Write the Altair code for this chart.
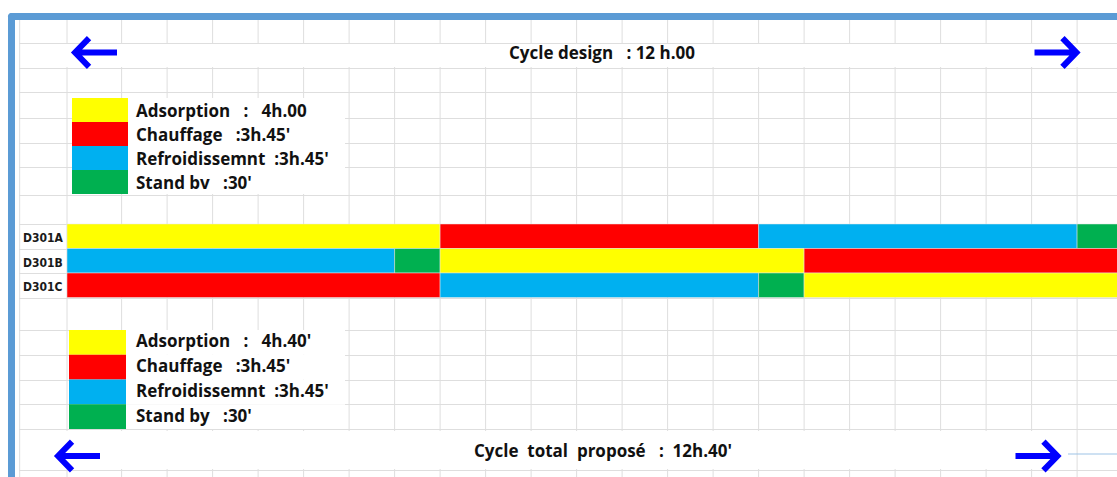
import altair as alt
import pandas as pd

# ---- phases and colours -------------------------------------------------
phases = ["Adsorption", "Chauffage", "Refroidissement", "Stand by"]
phase_colors = ["#FFFF00", "#FF0000", "#00B0F0", "#00B050"]

# ---- sequence of the three driers (hours from start of sequence) --------
reactors = ["D301A", "D301B", "D301C"]
seg_reactor = ["D301A"] * 4 + ["D301B"] * 4 + ["D301C"] * 4
seg_phase = [
    "Adsorption", "Chauffage", "Refroidissement", "Stand by",
    "Refroidissement", "Stand by", "Adsorption", "Chauffage",
    "Chauffage", "Refroidissement", "Stand by", "Adsorption",
]
seg_start = [0.0, 4.1, 7.6, 11.1, 0.0, 3.6, 4.1, 8.1, 0.0, 4.1, 7.6, 8.1]
seg_end = [4.1, 7.6, 11.1, 11.6, 3.6, 4.1, 8.1, 11.85, 4.1, 7.6, 8.1, 12.1]

# ---- key texts ------------------------------------------------------------
design_labels = ["Adsorption   :   4h.00", "Chauffage   :3h.45'",
                 "Refroidissemnt  :3h.45'", "Stand bv   :30'"]
proposed_labels = ["Adsorption   :   4h.40'", "Chauffage   :3h.45'",
                   "Refroidissemnt  :3h.45'", "Stand by   :30'"]
title_design = "Cycle design   : 12 h.00"
title_proposed = "Cycle  total  proposé   :  12h.40'"


def keep_spaces(s):
    return s.replace(" ", "\u00a0")


W, H = 1117, 477
FONT = "Open Sans"
FS = 17
BLUE_FRAME = "#5B9BD5"
GRID = "#dedede"

segments = pd.DataFrame({"reactor": seg_reactor, "phase": seg_phase,
                         "start": seg_start, "end": seg_end})
rows = pd.DataFrame({"reactor": reactors})
key_design = pd.DataFrame({"phase": phases,
                           "label": [keep_spaces(t) for t in design_labels]})
key_proposed = pd.DataFrame({"phase": phases,
                             "label": [keep_spaces(t) for t in proposed_labels]})

color = alt.Color("phase:N", scale=alt.Scale(domain=phases, range=phase_colors),
                  legend=None)

# time axis: 91 px per hour, one sheet column per half hour
px_h = 91.0
x0 = 67.0
xscale = alt.Scale(domain=[-0.53, 11.54], range=[x0 - 0.53 * px_h, x0 + 11.54 * px_h],
                   nice=False, zero=False)
col_lines = pd.DataFrame({"h": [-0.52, 0.0] + [round(0.6 + 0.5 * k, 2) for k in range(22)]})

row_scale = alt.Scale(domain=reactors, range=[224, 297.5], paddingInner=0, paddingOuter=0)
key1_scale = alt.Scale(domain=phases, range=[98, 194], paddingInner=0, paddingOuter=0)
key2_scale = alt.Scale(domain=phases, range=[330, 429], paddingInner=0, paddingOuter=0)


def deco():
    return alt.Chart(alt.Data(values=[{"k": 0}]))


# sheet column lines (one per half hour)
col_grid = alt.Chart(col_lines).mark_rule(color=GRID, strokeWidth=1).encode(
    x=alt.X("h:Q", scale=xscale, axis=None), y=alt.value(20), y2=alt.value(H))

# sheet row lines
sheet_rows = [43, 68, 92, 118, 143, 167, 195, 224, 248.5, 273, 297.5,
              330, 355, 379.5, 404, 429, 470]
row_grid = deco().mark_point(opacity=0).encode(
    y=alt.Y("k:Q", scale=alt.Scale(domain=[0, H], range=[0, H], nice=False, zero=False),
            axis=alt.Axis(values=sheet_rows, grid=True, gridColor=GRID, gridWidth=1,
                          labels=False, ticks=False, domain=False, title=None, zindex=0))
)


# white areas of the sheet
def white_box(x1, x2, y1, y2):
    return deco().mark_rect(color="white").encode(
        x=alt.value(x1), x2=alt.value(x2), y=alt.value(y1), y2=alt.value(y2))


whites = [
    white_box(0, 19, 0, H),
    white_box(0, W, 0, 20),
    white_box(57, W, 44, 67),
    white_box(30, 1068, 431, 469),
]

key1_bg = alt.Chart(key_design).mark_rect(color="white").encode(
    x=alt.value(128), x2=alt.value(345),
    y=alt.Y("phase:N", scale=key1_scale, axis=None))
key2_bg = alt.Chart(key_proposed).mark_rect(color="white").encode(
    x=alt.value(126), x2=alt.value(345),
    y=alt.Y("phase:N", scale=key2_scale, axis=None))

# Gantt bars
bars = alt.Chart(segments).mark_bar(clip=True, stroke="#e4e4e4", strokeWidth=0.5).encode(
    x=alt.X("start:Q", scale=xscale, axis=None),
    x2="end:Q",
    y=alt.Y("reactor:N", scale=row_scale, axis=None),
    color=color,
)

row_labels = alt.Chart(rows).mark_text(
    align="left", baseline="middle",
    font="Liberation Sans Narrow, DejaVu Sans Condensed, Roboto Condensed, sans-serif",
    fontWeight="bold", fontSize=12, dy=2, color="#1a1a1a").encode(
    x=alt.value(23),
    y=alt.Y("reactor:N", scale=row_scale, axis=None),
    text="reactor:N")

# keys
key1_sw = alt.Chart(key_design).mark_rect().encode(
    x=alt.value(72), x2=alt.value(128),
    y=alt.Y("phase:N", scale=key1_scale, axis=None), color=color)
key1_tx = alt.Chart(key_design).mark_text(
    align="left", baseline="middle", font=FONT, fontWeight="bold", fontSize=FS,
    dy=2, color="#111").encode(
    x=alt.value(136), y=alt.Y("phase:N", scale=key1_scale, axis=None), text="label:N")

key2_sw = alt.Chart(key_proposed).mark_rect().encode(
    x=alt.value(69), x2=alt.value(126),
    y=alt.Y("phase:N", scale=key2_scale, axis=None), color=color)
key2_tx = alt.Chart(key_proposed).mark_text(
    align="left", baseline="middle", font=FONT, fontWeight="bold", fontSize=FS,
    color="#111").encode(
    x=alt.value(136), y=alt.Y("phase:N", scale=key2_scale, axis=None), text="label:N")

# cycle titles
t_design = deco().mark_text(
    align="center", baseline="middle", font=FONT, fontWeight="bold", fontSize=FS,
    color="#111", text=keep_spaces(title_design)).encode(
    x=alt.value(602), y=alt.value(54))
t_proposed = deco().mark_text(
    align="center", baseline="middle", font=FONT, fontWeight="bold", fontSize=FS,
    color="#111", text=keep_spaces(title_proposed)).encode(
    x=alt.value(603), y=alt.value(452))

# arrows
LEFT = "M1,0L-0.85,0M-0.3,-0.67L-0.95,0L-0.3,0.67"
RIGHT = "M-1,0L0.85,0M0.3,-0.67L0.95,0L0.3,0.67"


def arrow(path, cx, cy):
    return deco().mark_point(shape=path, filled=False, stroke="#0000FF", strokeWidth=6,
                             size=1849, opacity=1, strokeJoin="miter").encode(
        x=alt.value(cx), y=alt.value(cy))


arrows = [arrow(LEFT, 95.5, 52.5), arrow(RIGHT, 1056, 52.5),
          arrow(LEFT, 78.5, 456), arrow(RIGHT, 1037, 456)]

# frame
frame = [
    deco().mark_rect(color=BLUE_FRAME, cornerRadiusTopLeft=4).encode(
        x=alt.value(8), x2=alt.value(15), y=alt.value(13), y2=alt.value(H)),
    deco().mark_rect(color=BLUE_FRAME, cornerRadiusTopLeft=4).encode(
        x=alt.value(8), x2=alt.value(W), y=alt.value(13), y2=alt.value(20)),
    deco().mark_rule(color="#9DC3E6", strokeWidth=1).encode(
        x=alt.value(1068), x2=alt.value(W), y=alt.value(454)),
]

chart = alt.layer(
    row_grid, col_grid, *whites, key1_bg, key2_bg, bars, row_labels,
    key1_sw, key1_tx, key2_sw, key2_tx, t_design, t_proposed, *arrows, *frame
).resolve_scale(y="independent").properties(
    width=W, height=H, padding=0, autosize="none", background="white"
).configure_view(stroke=None)

chart.save("out.html", embed_options={"renderer": "svg", "actions": False})
